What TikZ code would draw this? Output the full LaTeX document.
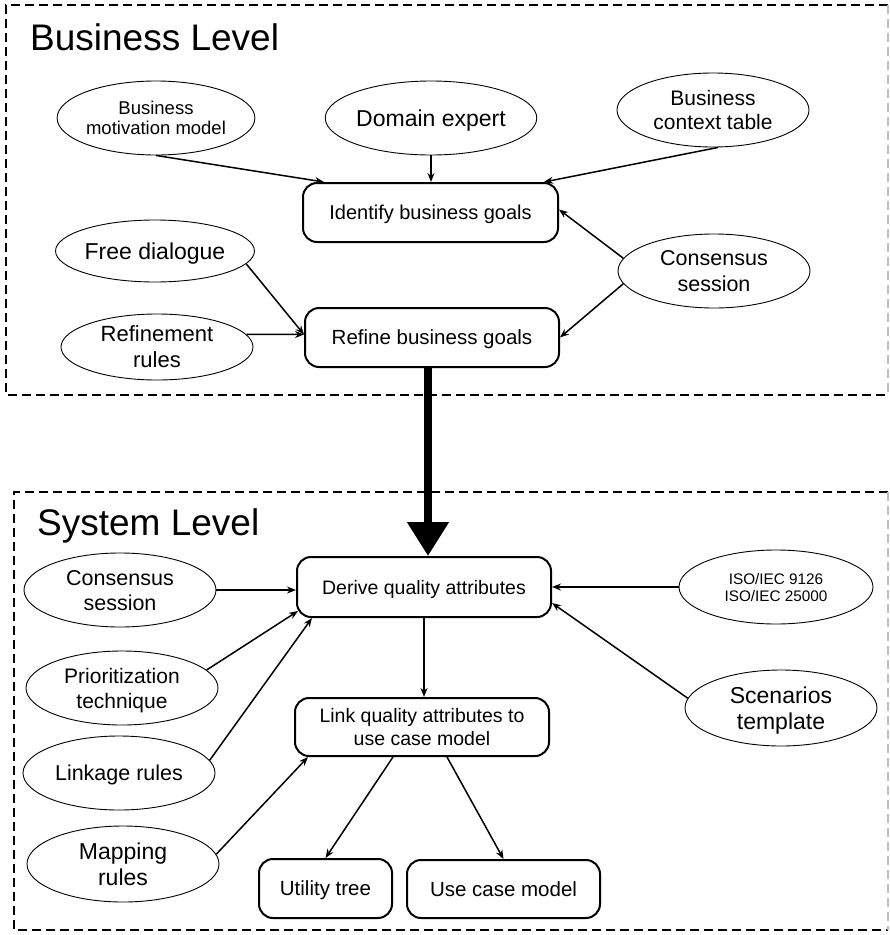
\documentclass[tikz,border=0pt]{standalone}
\usepackage{fontspec}
\setmainfont{Liberation Sans}
\usetikzlibrary{arrows.meta,calc,shapes.geometric}

\newcommand{\fs}[2]{\fontsize{#1pt}{#2pt}\selectfont}

\tikzset{
  ell/.style={ellipse, draw, line width=0.9pt, inner sep=0pt, align=center,
              text depth=0pt, minimum width=192pt, minimum height=74pt},
  procbox/.style={draw, rounded corners=14pt, line width=2pt, inner sep=0pt,
                  text depth=0pt, align=center},
  frame/.style={line width=2.6pt, dash pattern=on 9pt off 5pt},
  frameedge/.style={line width=1.2pt, draw=black!25, dash pattern=on 9pt off 5pt},
  flow/.style={line width=1.5pt, -{Stealth[length=9pt,width=7pt]}},
  bigflow/.style={line width=8pt, -{Triangle[length=34pt,width=40pt]}},
  title/.style={anchor=base west, inner sep=0pt, font=\fs{37}{40}}
}

\begin{document}
\begin{tikzpicture}[x=1pt, y=-1pt]
\useasboundingbox (0,0) rectangle (890,935);

% level frames
\draw[frame] (888,5) -- (6,5) -- (6,395) -- (888,395);
\draw[frameedge] (888,5) -- (888,395);
\draw[frame] (888,492) -- (14,492) -- (14,930) -- (888,930);
\draw[frameedge] (888,492) -- (888,930);

\node[title] (bl) at (30,50) {Business Level};
\node[title] (sl) at (37,535) {System Level};

% business level
\node[ell, font=\fs{18.5}{20.5}] (bmm) at (156,118) {Business\\motivation model};
\node[ell, font=\fs{23}{26}] (dom) at (431,118) {Domain expert};
\node[ell, font=\fs{21}{24}] (bct) at (713,110) {Business\\context table};
\node[ell, font=\fs{23}{26}, minimum height=62pt] (free) at (155,251) {Free dialogue};
\node[ell, font=\fs{22}{26}, minimum height=66pt] (refr) at (157,347) {Refinement\\rules};
\node[ell, font=\fs{21.5}{26}] (cons1) at (714,271) {Consensus\\session};

\node[procbox, minimum width=255pt, minimum height=59pt, font=\fs{20}{24}]
  (ident) at (430.5,212.5) {Identify business goals};
\node[procbox, minimum width=254pt, minimum height=59pt, font=\fs{20.5}{24}]
  (refine) at (432,337.5) {Refine business goals};

\draw[flow] (bmm.south) -- ($(ident.north west)+(22,0)$);
\draw[flow] (dom.south) -- (dom.south |- ident.north);
\draw[flow] ($(bct.south)+(5,0)$) -- ($(ident.north east)+(-15,0)$);
\draw[flow] (cons1.172) -- ($(ident.east)+(0,-3)$);
\draw[flow] (cons1.188) -- (refine.east);
\draw[flow] (free.-8) -- ($(refine.west)+(0,-3)$);
\draw[flow] (refr.8) -- ($(refine.west)+(0,-3)$);

% system level
\node[ell, font=\fs{21.5}{25}] (cons2) at (120,590) {Consensus\\session};
\node[ell, font=\fs{21}{25}] (prio) at (122,688) {Prioritization\\technique};
\node[ell, font=\fs{21.5}{26}] (link) at (119,773) {Linkage rules};
\node[ell, font=\fs{23}{26}, minimum height=76pt] (map) at (123,864) {Mapping\\rules};
\node[ell, font=\fs{15.3}{17}, minimum width=194pt] (iso) at (776,587) {ISO/IEC 9126\\ISO/IEC 25000};
\node[ell, font=\fs{23}{26}, minimum height=76pt] (scen) at (781,708) {Scenarios\\template};

\node[procbox, minimum width=254pt, minimum height=60pt, font=\fs{19.5}{23}]
  (derive) at (424,587) {Derive quality attributes};
\node[procbox, minimum width=254pt, minimum height=58pt, font=\fs{19.5}{23}]
  (lqa) at (422,727) {Link quality attributes to\\use case model};
\node[procbox, minimum width=133pt, minimum height=59pt, font=\fs{20.5}{24}]
  (util) at (325.5,888.5) {Utility tree};
\node[procbox, minimum width=193pt, minimum height=58pt, font=\fs{20.5}{24}]
  (ucm) at (503.5,889) {Use case model};

% hand-over from the business level to the system level
\coordinate (handover) at ($(refine.south)+(-4,0)$);
\draw[bigflow] (handover) -- (handover |- derive.north);

\draw[flow] (cons2.east) -- (cons2.east -| derive.west);
\draw[flow] (prio.12) -- ($(derive.south west)+(2,-7)$);
\draw[flow] (link.8) -- ($(derive.south west)+(16,0)$);
\draw[flow] (map.6) -- ($(lqa.south west)+(14,0)$);
\draw[flow] (derive.south) -- (derive.south |- lqa.north);
\draw[flow] (iso.west) -- (iso.west -| derive.east);
\draw[flow] (scen.174) -- ($(derive.east)+(0,16)$);
\draw[flow] ($(lqa.south west)+(99,0)$) -- (util.north);
\draw[flow] ($(lqa.south west)+(153,0)$) -- (ucm.north);
\end{tikzpicture}
\end{document}
